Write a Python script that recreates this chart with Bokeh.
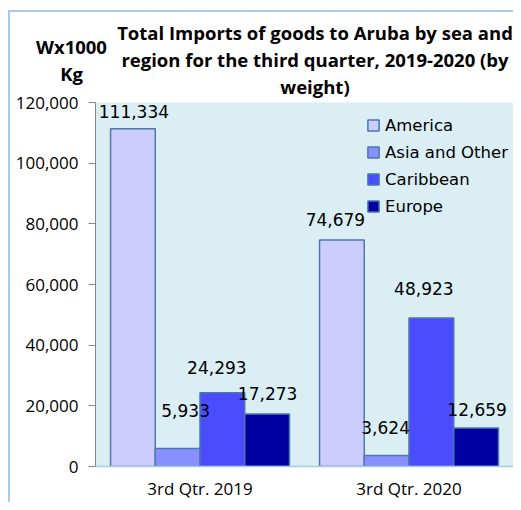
from bokeh.plotting import figure
from bokeh.models import ColumnDataSource, Legend, LegendItem, NumeralTickFormatter, FixedTicker, Range1d
from bokeh.layouts import column
from bokeh.transform import dodge
from bokeh.core.properties import value
from bokeh.embed import file_html
from bokeh.resources import INLINE

# ---- data ----
categories = ["3rd Qtr. 2019", "3rd Qtr. 2020"]
series = ["America", "Asia and Other", "Caribbean", "Europe"]
america = [111334, 74679]
asia_other = [5933, 3624]
caribbean = [24293, 48923]
europe = [17273, 12659]
y_ticks = [0, 20000, 40000, 60000, 80000, 100000, 120000]
title_lines = ["Total Imports of goods to Aruba by sea and",
               "region for the third quarter, 2019-2020 (by",
               "weight)"]
unit_lines = ["Wx1000", "Kg"]

values = [america, asia_other, caribbean, europe]

# ---- styles ----
colors = ["#CCCCFF", "#8890FF", "#4C4CFF", "#0000A0"]
offsets = [-0.321, -0.107, 0.107, 0.321]
bar_w = 0.214
lab_dx = [[1, -6.5], [8, -1], [-5.5, -7.5], [0.5, 1]]
lab_dy = [[-17, -20], [-38, -28], [-25, -29.5], [-20.5, -19]]
W = 513
HH = 100
OVER = 10
HM = 412
BORDER = "#ABC9E8"

# ---- header (title) ----
h = figure(width=W, height=HH, x_range=Range1d(0, W), y_range=Range1d(0, HH),
           x_axis_type=None, y_axis_type=None, output_backend="svg", toolbar_location=None,
           min_border=0, margin=(0, 0, -OVER, 0))
h.outline_line_color = None
h.grid.visible = False
h.background_fill_alpha = 0
h.border_fill_alpha = 0
h.text(x=[314.5] * 3, y=[68.5, 41.5, 14], text=title_lines, text_align="center",
       text_baseline="middle", text_font=value("Open Sans"), text_font_style="bold",
       text_font_size="18.5px", text_color="black")
h.text(x=[71, 71], y=[54, 27], text=unit_lines, text_align="center",
       text_baseline="middle", text_font=value("Open Sans"), text_font_style="bold",
       text_font_size="18.5px", text_color="black")

# ---- main chart ----
p = figure(x_range=categories, y_range=(0, 120000), width=W, height=HM,
           output_backend="svg", toolbar_location=None,
           min_border_left=95, min_border_right=0, min_border_top=12, min_border_bottom=36)
p.x_range.range_padding = 0
p.background_fill_color = "#DAEEF3"
p.border_fill_alpha = 0
p.outline_line_color = None
p.xgrid.grid_line_color = None
p.ygrid.grid_line_color = None

for fig in (h, p):
    if "frame_align" in fig.properties():
        fig.frame_align = False

items = []
srcs = []
for i, name in enumerate(series):
    src = ColumnDataSource(dict(cat=categories, val=values[i],
                                txt=[f"{v:,}" for v in values[i]],
                                dx=lab_dx[i], dy=lab_dy[i]))
    srcs.append(src)
    r = p.vbar(x=dodge("cat", offsets[i], range=p.x_range), top="val", width=bar_w,
               source=src, fill_color=colors[i], line_color="#4A79AA", line_width=1.5)
    items.append(LegendItem(label=name, renderers=[r]))
for i, src in enumerate(srcs):
    p.text(x=dodge("cat", offsets[i], range=p.x_range), y="val", text="txt", source=src,
           x_offset="dx", y_offset="dy", text_align="center", text_baseline="middle",
           text_font=value("DejaVu Sans"), text_font_size="17px", text_color="black")

legend = Legend(items=items, location=(271, 250), orientation="vertical",
                background_fill_alpha=0, border_line_color=None,
                label_text_font="DejaVu Sans", label_text_font_size="16.5px",
                label_text_color="black", glyph_width=14, glyph_height=14,
                label_height=20, spacing=7, padding=0, margin=0, label_standoff=5)
p.add_layout(legend, "center")

p.yaxis.ticker = FixedTicker(ticks=y_ticks)
p.yaxis.formatter = NumeralTickFormatter(format="0,0")
p.yaxis.axis_line_color = "#868686"
p.yaxis.major_tick_line_color = "#868686"
p.yaxis.major_tick_out = 7
p.yaxis.major_tick_in = 0
p.yaxis.minor_tick_line_color = None
p.yaxis.major_label_standoff = 10
p.yaxis.major_label_text_font = "Open Sans"
p.yaxis.major_label_text_font_size = "17px"
p.yaxis.major_label_text_color = "black"

p.xaxis.axis_line_color = "#A9CCE3"
p.xaxis.axis_line_width = 1.5
p.xaxis.major_tick_line_color = None
p.xaxis.minor_tick_line_color = None
p.xaxis.major_label_standoff = 4
p.xaxis.major_label_text_font = "Open Sans"
p.xaxis.major_label_text_font_size = "17px"
p.xaxis.major_label_text_color = "black"

bg = (f"linear-gradient({BORDER},{BORDER}) 8px 10px / 2px 100% no-repeat, "
      f"linear-gradient({BORDER},{BORDER}) 8px 10px / 100% 2px no-repeat")
layout = column(h, p, spacing=0, styles={"background": bg})

open("out.html", "w").write(file_html(layout, INLINE))
